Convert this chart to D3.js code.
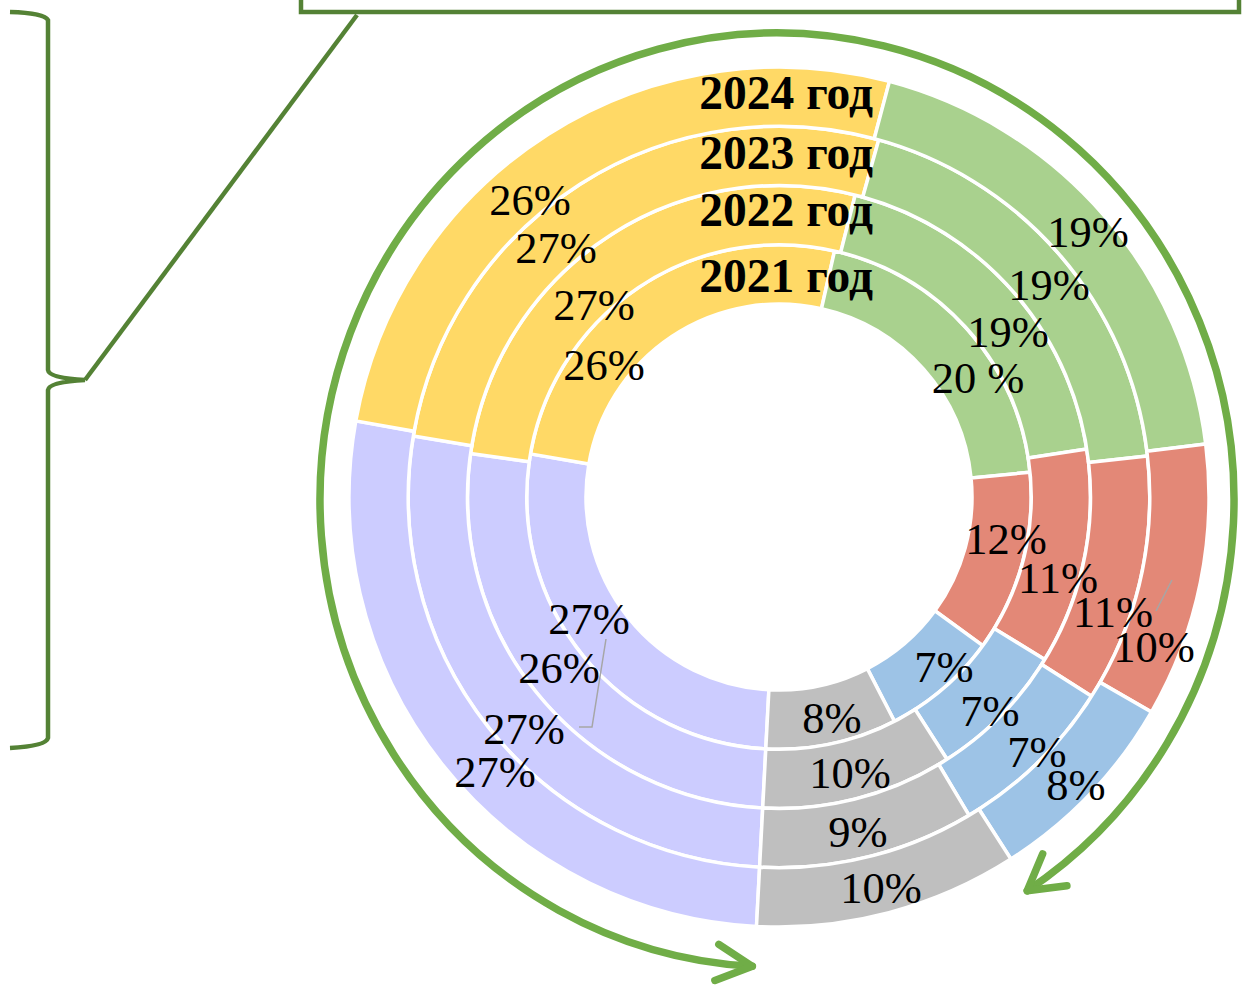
<!DOCTYPE html>
<html>
<head>
<meta charset="utf-8">
<script src="https://cdn.jsdelivr.net/npm/d3@7"></script>
<style>
  html, body { margin: 0; padding: 0; background: #ffffff; }
  svg { display: block; }
</style>
</head>
<body>
<svg id="chart" width="1243" height="989"></svg>
<script>
// ---------------- DATA ----------------
const years = ["2021 год", "2022 год", "2023 год", "2024 год"];          // inner -> outer ring
const categories = ["Категория 1", "Категория 2", "Категория 3", "Категория 4", "Категория 5", "Категория 6"];
// shares (%) per ring, inner (2021) -> outer (2024)
const cat1 = [26.9, 26.4, 26.8, 27.0];
const cat2 = [25.8, 26.7, 26.7, 26.3];
const cat3 = [19.9, 18.6, 18.9, 18.9];
const cat4 = [11.6, 11.2, 10.8, 10.3];
const cat5 = [7.4, 7.2, 7.4, 7.6];
const cat6 = [8.4, 9.9, 9.4, 9.9];
// data label texts as shown
const lab1 = ["27%", "26%", "27%", "27%"];
const lab2 = ["26%", "27%", "27%", "26%"];
const lab3 = ["20 %", "19%", "19%", "19%"];
const lab4 = ["12%", "11%", "11%", "10%"];
const lab5 = ["7%", "7%", "7%", "8%"];
const lab6 = ["8%", "10%", "9%", "10%"];

// ---------------- LAYOUT / STYLE ----------------
const W = 1243, H = 989;
const cx = 779, cy = 497;
const startDeg = 183;
const colors = ["#CCCCFF", "#FFD966", "#A9D18E", "#E38877", "#9DC3E6", "#BFBFBF"];
const serif = "'Liberation Serif', 'Times New Roman', 'DejaVu Serif', serif";
// manually placed label anchors (center x, baseline y), per category, per ring
const labelPos = [
  [[589, 634], [559, 683], [524, 744], [495, 787]],
  [[604, 380], [594, 320], [556, 263], [530, 215]],
  [[978, 393], [1008, 347], [1049, 300], [1088, 247]],
  [[1006, 554], [1058, 593], [1113, 627], [1154, 662]],
  [[944, 682], [990, 726], [1037, 767], [1076, 800]],
  [[832, 733], [850, 788], [858, 847], [881, 903]]
];
const yearLabelPos = [[873, 292], [873, 226], [873, 169], [873, 109]];

const svg = d3.select("#chart");
const series = [cat1, cat2, cat3, cat4, cat5, cat6];
const labels = [lab1, lab2, lab3, lab4, lab5, lab6];

const rScale = d3.scaleLinear().domain([0, years.length]).range([193, 430]);
const a0 = startDeg * Math.PI / 180;
const pie = d3.pie().sort(null).value(d => d.value).startAngle(a0).endAngle(a0 + 2 * Math.PI);

const g = svg.append("g").attr("transform", `translate(${cx},${cy})`);

years.forEach((yr, ri) => {
  const rows = categories.map((c, ci) => ({ cat: c, ci, value: series[ci][ri] }));
  const arc = d3.arc().innerRadius(rScale(ri)).outerRadius(rScale(ri + 1));
  g.append("g").attr("class", "ring")
    .selectAll("path")
    .data(pie(rows))
    .join("path")
    .attr("d", arc)
    .attr("fill", d => colors[d.data.ci])
    .attr("stroke", "#ffffff")
    .attr("stroke-width", 3.5)
    .attr("stroke-linejoin", "miter");
});

// leader lines (grey)
const leaders = [
  [[606, 639], [592, 727], [579, 727]],
  [[1172, 580], [1156, 611]]
];
svg.append("g").selectAll("path").data(leaders).join("path")
  .attr("d", d => d3.line()(d))
  .attr("fill", "none").attr("stroke", "#A6A6A6").attr("stroke-width", 1.5);

// year labels
svg.append("g").selectAll("text").data(years).join("text")
  .attr("x", (d, i) => yearLabelPos[i][0])
  .attr("y", (d, i) => yearLabelPos[i][1])
  .attr("text-anchor", "end")
  .attr("font-family", serif)
  .attr("font-weight", "bold")
  .attr("font-size", 47.5)
  .attr("fill", "#000")
  .text(d => d);

// percentage labels
const lblData = [];
labels.forEach((arr, ci) => arr.forEach((t, ri) => lblData.push({ t, x: labelPos[ci][ri][0], y: labelPos[ci][ri][1] })));
svg.append("g").selectAll("text").data(lblData).join("text")
  .attr("x", d => d.x).attr("y", d => d.y)
  .attr("text-anchor", "middle")
  .attr("font-family", serif)
  .attr("font-size", 44.5)
  .attr("fill", "#000")
  .text(d => d.t);

// ---------------- green circular double arrow ----------------
const ex = 777, ey = 500, rx = 457, ry = 467;
const E = deg => { const t = deg * Math.PI / 180; return [ex + rx * Math.sin(t), ey - ry * Math.cos(t)]; };
const t1 = 183.1, t2 = 506.8;
const p1 = E(t1), p2 = E(t2);
const arrowG = svg.append("g").attr("stroke", "#70AD47").attr("stroke-width", 7.5)
  .attr("fill", "none").attr("stroke-linecap", "round").attr("stroke-linejoin", "round");
arrowG.append("path").attr("d", `M${p1[0]},${p1[1]} A${rx},${ry} 0 1 1 ${p2[0]},${p2[1]}`);
function head(tip, from, len, half) {
  const ang = Math.atan2(from[1] - tip[1], from[0] - tip[0]);
  const h = half * Math.PI / 180;
  const b1 = [tip[0] + len * Math.cos(ang + h), tip[1] + len * Math.sin(ang + h)];
  const b2 = [tip[0] + len * Math.cos(ang - h), tip[1] + len * Math.sin(ang - h)];
  return `M${b1[0]},${b1[1]} L${tip[0]},${tip[1]} L${b2[0]},${b2[1]}`;
}
arrowG.append("path").attr("d", head(p1, E(t1 + 6), 40, 27));
arrowG.append("path").attr("d", head(p2, E(t2 - 7), 40, 30));

// ---------------- brace, connector and box ----------------
const dg = svg.append("g").attr("stroke", "#548235").attr("stroke-width", 4.5).attr("fill", "none");
dg.append("path").attr("d",
  "M10,12 Q44,13 48,20 L48,370 Q49,378 85,380 Q49,382 48,390 L48,738 Q46,746 10,748");
dg.append("line").attr("x1", 85).attr("y1", 380).attr("x2", 357).attr("y2", 15);
dg.append("rect").attr("x", 301).attr("y", -20).attr("width", 938).attr("height", 32);
</script>
</body>
</html>
